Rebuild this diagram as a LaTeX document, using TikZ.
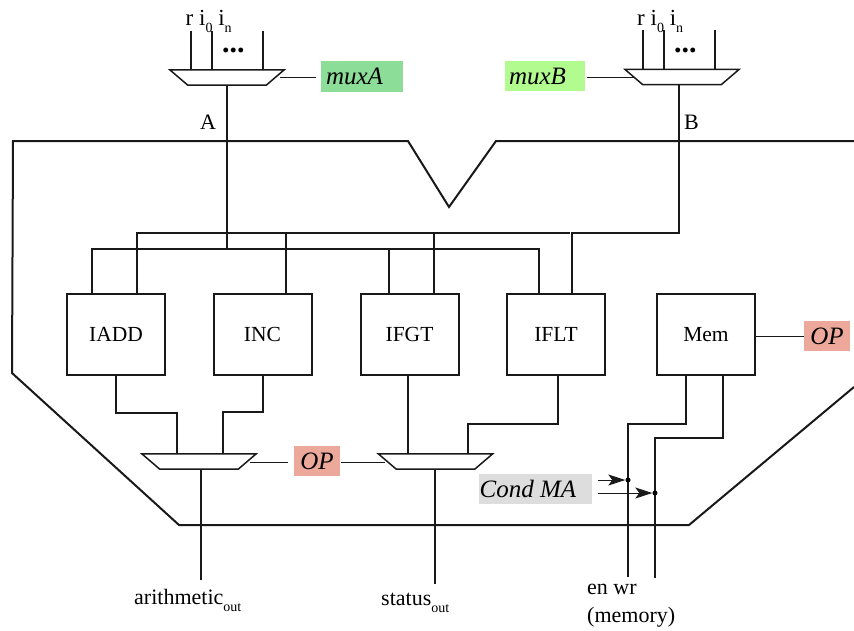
\documentclass[tikz,border=0pt]{standalone}
\usepackage{fontspec}
\setmainfont{Liberation Serif}
\usetikzlibrary{arrows.meta}
\definecolor{muxagreen}{HTML}{8BDD98}
\definecolor{muxbgreen}{HTML}{B2FB8F}
\definecolor{oppink}{HTML}{EDA89C}
\definecolor{condgrey}{HTML}{DDDDDD}
\newcommand{\subtxt}[1]{\raisebox{-0.32em}{\fontsize{14}{14}\selectfont #1}}
\newcommand{\muxat}[3]{%
  \node[muxframe] (#1) at (#2,#3) {};
  \draw[muxline] (#1.north west) -- (#1.north east) -- ([xshift=-18pt]#1.south east) -- ([xshift=18pt]#1.south west) -- cycle;
}
\tikzset{
  x=1pt,y=-1pt,
  wire/.style={line width=2pt,black!90},
  thinwire/.style={line width=0.9pt,black!90},
  unitbox/.style={draw=black!90,line width=2pt,fill=white,minimum width=98pt,minimum height=81pt,inner sep=0pt,font=\fontsize{21.5}{24}\selectfont},
  muxframe/.style={inner sep=0pt,minimum height=15pt,minimum width=114pt},
  muxline/.style={draw=black!90,line width=1.5pt,fill=white,line join=miter},
  ctrl/.style={inner sep=0pt,font=\itshape\fontsize{25}{28}\selectfont},
  txt/.style={inner sep=0pt,anchor=base west,font=\fontsize{22}{26}\selectfont},
  dotn/.style={circle,fill=black,inner sep=0pt,minimum size=5pt},
  arr/.style={thinwire,-{Stealth[length=17pt,width=11pt,inset=4pt]}}
}
\begin{document}
\begin{tikzpicture}
\useasboundingbox (0,0) rectangle (854,630);
% outline
\coordinate (o1) at (854,141);
\coordinate (o2) at (496,141);
\coordinate (o3) at (449,207);
\coordinate (o4) at (408,141);
\coordinate (o5) at (13,141);
\coordinate (o6) at (12,373);
\coordinate (o7) at (179,525);
\coordinate (o8) at (689,525);
\coordinate (o9) at (854,387);
\draw[wire,line join=miter] (o1) -- (o2) -- (o3) -- (o4) -- (o5) -- (o6) -- (o7) -- (o8) -- (o9);
% units
\node[unitbox] (iadd) at (116,334.5) {IADD};
\node[unitbox] (inc) at (262.5,334.5) {INC};
\node[unitbox] (ifgt) at (409.5,334.5) {IFGT};
\node[unitbox] (iflt) at (556,334.5) {IFLT};
\node[unitbox] (mem) at (706,334.5) {Mem};
% muxes
\muxat{muxa}{227}{77.5}
\muxat{muxb}{682}{77}
\muxat{muxl}{199}{461.5}
\muxat{muxr}{435.5}{461.5}
% control labels
\node[ctrl,fill=muxagreen,minimum width=82pt,minimum height=31pt] (la) at (362,76.5) {muxA\hspace*{15pt}};
\node[ctrl,fill=muxbgreen,minimum width=80pt,minimum height=30pt] (lb) at (545,76) {muxB\hspace*{15pt}};
\node[ctrl,fill=oppink,minimum width=46pt,minimum height=30pt] (opl) at (317,461) {OP};
\node[ctrl,fill=oppink,minimum width=46pt,minimum height=30pt] (opm) at (827,336) {OP};
\node[ctrl,fill=condgrey,minimum width=113pt,minimum height=30pt] (cond) at (535.5,489) {Cond MA\hspace*{15pt}};
\coordinate (la0) at (316,77);
\coordinate (la1) at (280,77);
\coordinate (lb0) at (587,77);
\coordinate (lb1) at (634,77);
\coordinate (opl0) at (288,462);
\coordinate (opl1) at (250,462);
\coordinate (opl2) at (341,462);
\coordinate (opl3) at (385,462);
\draw[thinwire] (la1) -- (la0);
\draw[thinwire] (lb0) -- (lb1);
\draw[thinwire] (opl1) -- (opl0);
\draw[thinwire] (opl2) -- (opl3);
\draw[thinwire] (mem.east |- opm) -- (opm.west);
% mux inputs
\draw[wire] ([xshift=-36pt]muxa.north) -- ++(0,-39);
\draw[wire] ([xshift=-15pt]muxa.north) -- ++(0,-39);
\draw[wire] ([xshift=36pt]muxa.north) -- ++(0,-39);
\draw[wire] ([xshift=-39pt]muxb.north) -- ++(0,-39);
\draw[wire] ([xshift=-18pt]muxb.north) -- ++(0,-39);
\draw[wire] ([xshift=33pt]muxb.north) -- ++(0,-39);
% buses
\coordinate (busA) at (227,249);
\coordinate (busT) at (227,233);
\coordinate (busB) at (679,233);
\coordinate (busE) at (570,233);
\draw[wire] (muxa.south) -- (busA);
\draw[wire] ([xshift=-3pt]muxb.south) -- (busB) -| ([xshift=16pt]iflt.north);
\draw[wire] (busA) -| ([xshift=-24pt]iadd.north);
\draw[wire] (busA) -| ([xshift=-17.5pt]iflt.north);
\draw[wire] (busA -| ifgt.north) ++(-21,0) -- ([xshift=-21pt]ifgt.north);
\draw[wire] (busE) -| ([xshift=21pt]iadd.north);
\draw[wire] (busT -| inc.north) ++(23.5,0) -- ([xshift=23.5pt]inc.north);
\draw[wire] (busT -| ifgt.north) ++(24.5,0) -- ([xshift=24.5pt]ifgt.north);
% to lower muxes
\draw[wire] (iadd.south) -- ++(0,36.5) -| ([xshift=-22pt]muxl.north);
\draw[wire] (inc.south) -- ++(0,35.5) -| ([xshift=24pt]muxl.north);
\draw[wire] ([xshift=-1.5pt]ifgt.south) -- ([xshift=-27.5pt]muxr.north);
\draw[wire] ([xshift=2pt]iflt.south) -- ++(0,48) -| ([xshift=32.5pt]muxr.north);
% outputs
\coordinate (arout) at (201,580);
\coordinate (stout) at (435,584);
\coordinate (enout) at (628,577);
\coordinate (wrout) at (655,578);
\draw[wire] (arout |- muxl.south) -- (arout);
\draw[wire] (stout |- muxr.south) -- (stout);
\draw[wire] ([xshift=-20pt]mem.south) -- ++(0,47.5) -| (enout);
\draw[wire] ([xshift=17pt]mem.south) -- ++(0,61.5) -| (wrout);
% condition dots and arrows
\node[dotn] (den) at (628,480) {};
\node[dotn] (dwr) at (655,493) {};
\coordinate (cen) at (598,480);
\coordinate (cwr) at (598,493);
\draw[arr] (cen) -- (den);
\draw[arr] (cwr) -- (dwr);
% text
\node[txt,font=\fontsize{23}{26}\selectfont] (ia) at (185.5,25) {r i\subtxt{0} i\subtxt{n}};
\node[txt,font=\fontsize{23}{26}\selectfont] (ib) at (637,25) {r i\subtxt{0} i\subtxt{n}};
\node[txt,font=\bfseries\fontsize{30}{30}\selectfont] (da) at (222,52.5) {\smash{...}};
\node[txt,font=\bfseries\fontsize{30}{30}\selectfont] (db) at (674,52.5) {\smash{...}};
\node[txt] (ta) at (200,129) {A};
\node[txt] (tb) at (684,129) {B};
\node[txt] (tar) at (134,604) {arithmetic\subtxt{out}};
\node[txt] (tst) at (381,605) {status\subtxt{out}};
\node[txt,anchor=north west,align=left,font=\fontsize{22}{28}\selectfont] (tmem) at (587,584) {en wr\\(memory)};
\end{tikzpicture}
\end{document}
